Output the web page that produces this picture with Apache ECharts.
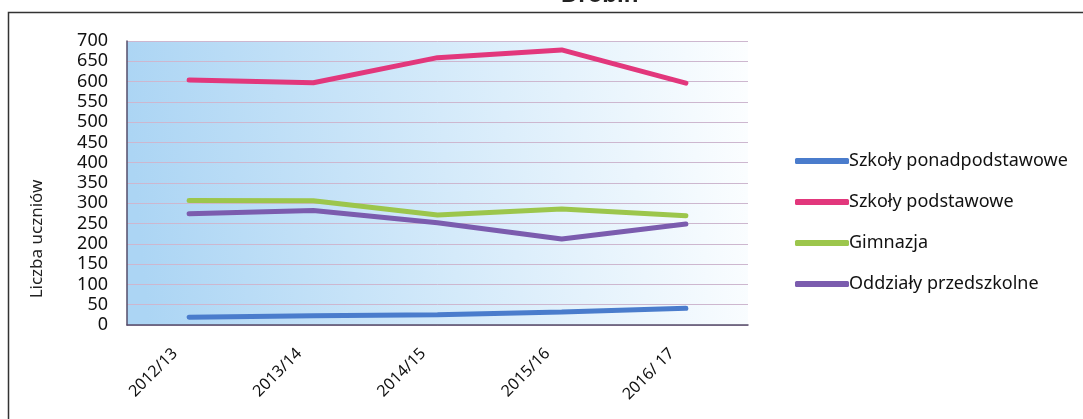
<!DOCTYPE html>
<html><head><meta charset="utf-8">
<script src="https://cdn.jsdelivr.net/npm/echarts@6/dist/echarts.min.js"></script>
<style>html,body{margin:0;padding:0;background:#fff}#c{width:1083px;height:419px}</style>
</head><body><div id="c"></div>
<script>
const categories = ['2012/13','2013/14','2014/15','2015/16','2016/ 17'];
const ponadpodstawowe = [19, 23, 25, 32, 41];
const podstawowe = [604, 597, 659, 678, 596];
const gimnazja = [307, 306, 271, 286, 269];
const przedszkolne = [274, 282, 252, 212, 249];
const seriesNames = ['Szkoły ponadpodstawowe','Szkoły podstawowe','Gimnazja','Oddziały przedszkolne'];
const yAxisTitle = 'Liczba uczniów';
const colors = ['#4a7ccc','#e2377c','#9cc64c','#7b5cae'];
const values = [ponadpodstawowe, podstawowe, gimnazja, przedszkolne];
const font = 'Noto Sans';

const chart = echarts.init(document.getElementById('c'));
chart.setOption({
  animation:false,
  textStyle:{fontFamily:font},
  title:{text:'Drobin', left:561, top:-17, padding:0, itemGap:0,
    textStyle:{fontFamily:'Liberation Sans', fontWeight:'bold', fontSize:24, color:'#222'}},
  graphic:[
    {type:'rect', shape:{x:8.5,y:12.5,width:1100,height:420}, style:{fill:'none', stroke:'#333', lineWidth:1.5}, z:-10},
    {type:'text', x:37, y:239, rotation:Math.PI/2, style:{text:yAxisTitle, fontFamily:font, fontSize:17, fill:'#222', align:'center', verticalAlign:'middle'}}
  ],
  grid:{left:127, top:41, width:621, height:284,
    show:true, borderWidth:0,
    backgroundColor:{type:'linear',x:0,y:0.2,x2:1,y2:0,colorStops:[{offset:0,color:'#acd5f4'},{offset:0.5,color:'#d4eafa'},{offset:1,color:'#fcfeff'}]}},
  legend:{orient:'vertical', left:790, top:147, itemWidth:54, itemHeight:6, itemGap:23, icon:'roundRect',
    textStyle:{fontFamily:font, fontSize:18, color:'#111', padding:[0,0,0,-5]},
    data:seriesNames},
  xAxis:{type:'category', data:categories, boundaryGap:true,
    axisLine:{lineStyle:{color:'#554c6a', width:1.5}}, axisTick:{show:false},
    axisLabel:{rotate:45, fontSize:16, color:'#111', margin:12, padding:[0,20,0,0]}},
  yAxis:{type:'value', min:0, max:700, interval:50,
    axisLine:{show:true, lineStyle:{color:'#554c6a', width:1.5}}, axisTick:{show:false},
    axisLabel:{fontSize:18, color:'#111', margin:19},
    splitLine:{lineStyle:{color:'#cdb7cf', width:1}}},
  series: values.map((v,i)=>({name:seriesNames[i], type:'line', data:v, symbol:'none',
    lineStyle:{width:5, color:colors[i], cap:'round'}, itemStyle:{color:colors[i]}}))
});
</script></body></html>
